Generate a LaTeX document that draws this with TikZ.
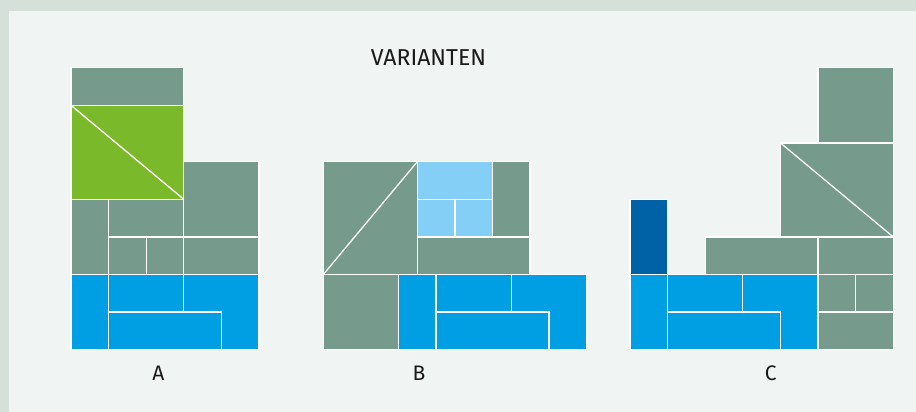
\documentclass[tikz,border=0pt]{standalone}
\usepackage{fontspec}
\setmainfont{Fira Sans}
\definecolor{outerbg}{HTML}{D5E0DB}
\definecolor{panelbg}{HTML}{F0F4F3}
\definecolor{ggray}{HTML}{769B8C}
\definecolor{ggreen}{HTML}{7AB929}
\definecolor{gblue}{HTML}{009FE3}
\definecolor{glight}{HTML}{83CFF5}
\definecolor{gdark}{HTML}{0062A6}
\definecolor{txt}{HTML}{1A1A1A}
\tikzset{
  piece/.style={draw=white, line width=1.3pt, line join=miter},
  gp/.style={piece, fill=ggray},
  bp/.style={piece, fill=gblue},
  lp/.style={piece, fill=glight},
  dp/.style={piece, fill=gdark},
  grp/.style={piece, fill=ggreen},
  diag/.style={draw=white, line width=1.3pt},
  lbl/.style={anchor=base, text=txt, inner sep=0pt, font=\fontsize{21}{24}\selectfont},
  ttl/.style={lbl, font=\fontsize{23}{26}\selectfont},
  unit/.style={x=37.6pt, y=37.6pt}
}
\begin{document}
\begin{tikzpicture}[x=1pt,y=-1pt]
\fill[outerbg] (0,0) rectangle (916,412);
\fill[panelbg] (9,11) rectangle (916,412);
\useasboundingbox (0,0) rectangle (916,412);

% Variant A
\begin{scope}[shift={(71,349.7)}, unit]
\draw[bp] (0,0) rectangle (1,2);
\draw[bp] (1,1) rectangle (3,2);
\draw[bp] (1,0) rectangle (4,1);
\draw[bp] (3,2) -- (5,2) -- (5,0) -- (4,0) -- (4,1) -- (3,1) -- cycle;
\draw[gp] (0,2) rectangle (1,4);
\draw[gp] (1,3) rectangle (3,4);
\draw[gp] (1,2) rectangle (2,3);
\draw[gp] (2,2) rectangle (3,3);
\draw[gp] (3,2) rectangle (5,3);
\draw[gp] (3,3) rectangle (5,5);
\draw[gp] (0,6.5) rectangle (3,7.5);
\draw[grp] (0,4) rectangle (3,6.5);
\draw[diag] (0,6.5) -- (3,4);
\end{scope}

% Variant B
\begin{scope}[shift={(323.3,349.7)}, unit]
\draw[gp] (0,0) rectangle (2,2);
\draw[bp] (2,0) rectangle (3,2);
\draw[bp] (3,1) rectangle (5,2);
\draw[bp] (3,0) rectangle (6,1);
\draw[bp] (5,2) -- (7,2) -- (7,0) -- (6,0) -- (6,1) -- (5,1) -- cycle;
\draw[gp] (0,2) rectangle (2.5,5);
\draw[diag] (0,2) -- (2.5,5);
\draw[lp] (2.5,4) rectangle (4.5,5);
\draw[lp] (2.5,3) rectangle (3.5,4);
\draw[lp] (3.5,3) rectangle (4.5,4);
\draw[gp] (4.5,3) rectangle (5.5,5);
\draw[gp] (2.5,2) rectangle (5.5,3);
\end{scope}

% Variant C
\begin{scope}[shift={(630,349.7)}, unit]
\draw[bp] (0,0) rectangle (1,2);
\draw[bp] (1,1) rectangle (3,2);
\draw[bp] (1,0) rectangle (4,1);
\draw[bp] (3,2) -- (5,2) -- (5,0) -- (4,0) -- (4,1) -- (3,1) -- cycle;
\draw[dp] (0,2) rectangle (1,4);
\draw[gp] (5,0) rectangle (7,1);
\draw[gp] (5,1) rectangle (6,2);
\draw[gp] (6,1) rectangle (7,2);
\draw[gp] (5,2) rectangle (7,3);
\draw[gp] (2,2) rectangle (5,3);
\draw[gp] (4,3) rectangle (7,5.5);
\draw[diag] (4,5.5) -- (7,3);
\draw[gp] (5,5.5) rectangle (7,7.5);
\end{scope}

\node[ttl] (title) at (428.5,66) {VARIANTEN};
\node[lbl] (la) at (158.3,380) {A};
\node[lbl] (lb) at (419,380) {B};
\node[lbl] (lc) at (770.7,380) {C};
\end{tikzpicture}
\end{document}
